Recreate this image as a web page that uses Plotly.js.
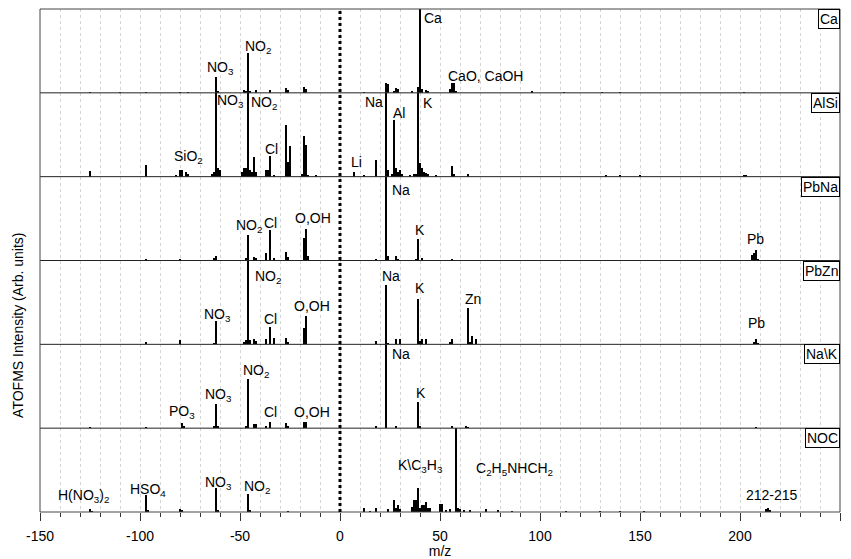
<!DOCTYPE html>
<html>
<head>
<meta charset="utf-8">
<script src="https://cdn.plot.ly/plotly-3.0.1.min.js"></script>
<style>
  html, body { margin: 0; padding: 0; background: #fff; }
  #chart { width: 851px; height: 559px; }
</style>
</head>
<body>
<div id="chart"></div>
<script>
// Stacked ATOFMS mass spectra, one panel per particle class.
// Intensities are in units of the panel height (values above 1 run off the panel).

const panelNames = ["Ca", "AlSi", "PbNa", "PbZn", "Na\\K", "NOC"];

const caMz  = [-125, -110, -97, -80, -76, -62, -61, -48, -47, -46, -45, -42, -35, -27, -26, -18, -17, 12, 23, 24, 27, 28, 29, 36, 39, 40, 41, 43, 44, 55, 56, 57, 58, 96, 112, 131, 140, 202];
const caInt = [0.01, 0.01, 0.015, 0.01, 0.01, 0.19, 0.02, 0.03, 0.02, 0.47, 0.02, 0.03, 0.03, 0.06, 0.03, 0.07, 0.05, 0.01, 0.12, 0.1, 0.02, 0.06, 0.05, 0.02, 0.07, 1.3, 0.04, 0.03, 0.02, 0.05, 0.12, 0.12, 0.02, 0.02, 0.01, 0.01, 0.01, 0.01];

const alsiMz  = [-125, -97, -82, -80, -79, -77, -76, -64, -63, -62, -61, -60, -49, -48, -47, -46, -45, -44, -43, -42, -37, -36, -35, -33, -27, -26, -25, -19, -18, -17, -16, -12, 7, 12, 18, 23, 24, 26, 27, 28, 29, 30, 31, 35, 37, 38, 39, 40, 41, 42, 43, 44, 48, 56, 57, 64, 133, 140, 150, 202, 203];
const alsiInt = [0.07, 0.14, 0.02, 0.08, 0.08, 0.06, 0.03, 0.03, 0.05, 1.3, 0.1, 0.08, 0.05, 0.1, 0.1, 1.3, 0.08, 0.05, 0.24, 0.06, 0.08, 0.08, 0.25, 0.02, 0.62, 0.17, 0.36, 0.03, 0.48, 0.38, 0.02, 0.02, 0.055, 0.02, 0.2, 1.3, 0.08, 0.03, 0.67, 0.1, 0.06, 0.08, 0.03, 0.02, 0.03, 0.03, 1.3, 0.16, 0.1, 0.05, 0.04, 0.03, 0.02, 0.13, 0.03, 0.03, 0.02, 0.02, 0.02, 0.02, 0.02];

const pbnaMz  = [-125, -97, -80, -63, -62, -47, -46, -43, -42, -37, -35, -33, -27, -26, -18, -17, -16, 18, 23, 24, 28, 29, 38, 39, 41, 56, 166, 206, 207, 208, 209];
const pbnaInt = [0.01, 0.02, 0.02, 0.03, 0.05, 0.03, 0.30, 0.045, 0.03, 0.09, 0.36, 0.03, 0.1, 0.04, 0.27, 0.37, 0.05, 0.02, 1.3, 0.05, 0.05, 0.02, 0.02, 0.26, 0.03, 0.02, 0.01, 0.06, 0.09, 0.12, 0.02];

const pbznMz  = [-97, -80, -63, -62, -48, -47, -46, -45, -43, -42, -37, -35, -33, -27, -26, -18, -17, 18, 24, 23, 28, 30, 39, 40, 41, 43, 55, 56, 64, 65, 66, 68, 207, 208, 209];
const pbznInt = [0.03, 0.05, 0.02, 0.28, 0.03, 0.05, 1.3, 0.05, 0.06, 0.04, 0.06, 0.21, 0.08, 0.08, 0.03, 0.2, 0.34, 0.04, 0.02, 0.71, 0.06, 0.06, 0.54, 0.04, 0.06, 0.06, 0.03, 0.06, 0.43, 0.03, 0.1, 0.06, 0.03, 0.06, 0.02];

const nakMz  = [-125, -97, -79, -78, -63, -62, -61, -47, -46, -43, -42, -37, -35, -27, -26, -18, -17, 18, 23, 28, 39, 40, 56, 63, 64, 208];
const nakInt = [0.01, 0.01, 0.06, 0.02, 0.02, 0.29, 0.02, 0.02, 0.59, 0.05, 0.05, 0.02, 0.075, 0.06, 0.03, 0.075, 0.075, 0.03, 1.3, 0.03, 0.31, 0.02, 0.03, 0.02, 0.015, 0.01];

const nocMz  = [-125, -124, -97, -96, -80, -79, -62, -61, -46, -45, -26, 12, 15, 18, 24, 27, 28, 29, 30, 36, 37, 38, 39, 40, 41, 42, 43, 44, 45, 50, 51, 53, 55, 58, 59, 60, 62, 65, 73, 79, 86, 113, 130, 140, 152, 213, 214, 215];
const nocInt = [0.03, 0.01, 0.2, 0.02, 0.03, 0.02, 0.29, 0.02, 0.22, 0.02, 0.01, 0.045, 0.01, 0.045, 0.04, 0.14, 0.05, 0.08, 0.03, 0.06, 0.14, 0.14, 0.29, 0.05, 0.08, 0.08, 0.12, 0.05, 0.05, 0.1, 0.1, 0.02, 0.03, 1.3, 0.05, 0.04, 0.02, 0.02, 0.03, 0.02, 0.01, 0.01, 0.01, 0.015, 0.01, 0.03, 0.05, 0.02];

// Peak labels: text, m/z position, height within panel, panel index (0 = top)
const labelText  = ["NO<sub>3</sub>", "NO<sub>2</sub>", "Ca", "CaO, CaOH",
                    "NO<sub>3</sub>", "NO<sub>2</sub>", "SiO<sub>2</sub>", "Cl", "Li", "Na", "Al", "K",
                    "NO<sub>2</sub>", "Cl", "O,OH", "Na", "K", "Pb",
                    "NO<sub>3</sub>", "NO<sub>2</sub>", "Cl", "O,OH", "Na", "K", "Zn", "Pb",
                    "PO<sub>3</sub>", "NO<sub>3</sub>", "NO<sub>2</sub>", "Cl", "O,OH", "Na", "K",
                    "H(NO<sub>3</sub>)<sub>2</sub>", "HSO<sub>4</sub>", "NO<sub>3</sub>", "NO<sub>2</sub>", "K\\C<sub>3</sub>H<sub>3</sub>", "C<sub>2</sub>H<sub>5</sub>NHCH<sub>2</sub>", "212-215"];
const labelMz    = [-60, -41, 46.5, 72.5,
                    -55, -38, -76, -34.5, 8, 16.75, 29.25, 43.75,
                    -45.75, -35, -13.75, 30.25, 39.75, 207.5,
                    -61.25, -36, -35, -14, 25.25, 39.75, 66.7, 208.3,
                    -79, -61, -42.25, -35, -14, 30.25, 40.7,
                    -128.1, -96.25, -60.7, -41.5, 40.4, 87.25, 215.8];
const labelY     = [0.30, 0.55, 0.89, 0.20,
                    0.90, 0.88, 0.23, 0.33, 0.17, 0.885, 0.76, 0.88,
                    0.41, 0.45, 0.51, 0.84, 0.36, 0.26,
                    0.35, 0.80, 0.30, 0.46, 0.81, 0.675, 0.54, 0.26,
                    0.19, 0.39, 0.68, 0.19, 0.19, 0.88, 0.42,
                    0.19, 0.26, 0.35, 0.30, 0.55, 0.51, 0.20];
const labelPanel = [0, 0, 0, 0,
                    1, 1, 1, 1, 1, 1, 1, 1,
                    2, 2, 2, 2, 2, 2,
                    3, 3, 3, 3, 3, 3, 3, 3,
                    4, 4, 4, 4, 4, 4, 4,
                    5, 5, 5, 5, 5, 5, 5];

const xTickVals = [-150, -100, -50, 0, 50, 100, 150, 200, 250];

const FONT = "Arial, 'Liberation Sans', sans-serif";
const FS = 14;
const spectra = [[caMz, caInt], [alsiMz, alsiInt], [pbnaMz, pbnaInt], [pbznMz, pbznInt], [nakMz, nakInt], [nocMz, nocInt]];
const nP = spectra.length;
const yName = i => (i === 0 ? "y" : "y" + (i + 1));
const yKey  = i => (i === 0 ? "yaxis" : "yaxis" + (i + 1));

const traces = spectra.map((s, i) => ({
  type: "bar",
  x: s[0],
  y: s[1],
  width: 1.4,
  marker: { color: "#000", line: { width: 0 } },
  xaxis: "x",
  yaxis: yName(i),
  hoverinfo: "x+y",
  showlegend: false
}));

const layout = {
  width: 851,
  height: 559,
  margin: { l: 40, r: 11, t: 9, b: 47 },
  paper_bgcolor: "#fff",
  plot_bgcolor: "#fff",
  font: { family: FONT, size: FS, color: "#000" },
  bargap: 0,
  xaxis: {
    range: [-150, 250],
    anchor: yName(nP - 1),
    tickvals: xTickVals,
    ticktext: xTickVals.map(String),
    ticks: "outside",
    ticklen: 8,
    tickwidth: 1,
    tickcolor: "#333",
    ticklabelstandoff: 3,
    showgrid: true,
    gridcolor: "#d4d4d4",
    griddash: "dot",
    gridwidth: 1,
    zeroline: false,
    showline: false,
    minor: { dtick: 10, tick0: -150, ticks: "outside", ticklen: 4, tickcolor: "#333",
             showgrid: true, gridcolor: "#d4d4d4", griddash: "dot", gridwidth: 1 },
    tickfont: { family: FONT, size: FS, color: "#000" },
    title: { text: "m/z", font: { family: FONT, size: FS }, standoff: 2 }
  },
  shapes: [],
  annotations: []
};

for (let i = 0; i < nP; i++) {
  const top = 1 - i / nP, bot = 1 - (i + 1) / nP;
  layout[yKey(i)] = {
    domain: [bot, top],
    range: [0, 1],
    anchor: "x",
    visible: false,
    fixedrange: true
  };
  // panel name box in the upper-right corner
  layout.annotations.push({
    xref: "paper", yref: "paper", x: 1, y: top,
    xanchor: "right", yanchor: "top",
    text: panelNames[i], showarrow: false,
    bgcolor: "#fff", bordercolor: "#000", borderwidth: 1, borderpad: 1,
    font: { family: FONT, size: FS, color: "#000" }
  });
  if (i > 0) {
    layout.shapes.push({ type: "line", xref: "paper", yref: "paper", x0: 0, x1: 1, y0: top, y1: top,
                         line: { color: "#222", width: 1 } });
  }
}

// frame
layout.shapes.push({ type: "rect", xref: "paper", yref: "paper", x0: 0, x1: 1, y0: 0, y1: 1,
                     line: { color: "#444", width: 1 } });
// dotted marker at m/z = 0 separating negative and positive ions
layout.shapes.push({ type: "line", xref: "x", yref: "paper", x0: 0, x1: 0, y0: 0, y1: 1,
                     line: { color: "#000", width: 3, dash: "dot" } });

for (let k = 0; k < labelText.length; k++) {
  layout.annotations.push({
    xref: "x", yref: yName(labelPanel[k]),
    x: labelMz[k], y: labelY[k],
    xanchor: "center", yanchor: "middle",
    text: labelText[k], showarrow: false,
    font: { family: FONT, size: FS, color: "#000" }
  });
}

// vertical axis title
layout.annotations.push({
  xref: "paper", yref: "paper", x: -0.0275, y: 0.37,
  xanchor: "center", yanchor: "middle", textangle: -90,
  text: "ATOFMS Intensity (Arb. units)", showarrow: false,
  font: { family: FONT, size: FS, color: "#000" }
});

Plotly.newPlot("chart", traces, layout, { displayModeBar: false, staticPlot: true });
</script>
</body>
</html>
